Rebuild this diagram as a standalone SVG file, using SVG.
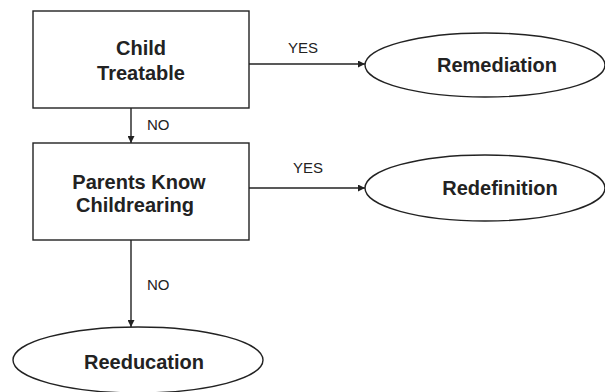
<svg xmlns="http://www.w3.org/2000/svg" width="605" height="392" viewBox="0 0 605 392">
<defs>
<style>
.box{fill:#fff;stroke:#222;stroke-width:1.4}
.ell{fill:#fff;stroke:#222;stroke-width:1.4}
.t{font-family:"Liberation Sans",Arial,sans-serif;font-weight:bold;font-size:20px;fill:#222;text-anchor:middle}
.lbl{font-family:"Liberation Sans",Arial,sans-serif;font-size:15px;fill:#222}
.c{stroke:#222;stroke-width:1.4;fill:none;marker-end:url(#ah)}
</style>
<marker id="ah" viewBox="0 0 10 10" refX="10" refY="5" markerWidth="8" markerHeight="7" markerUnits="userSpaceOnUse" orient="auto">
<path d="M0,0 L10,5 L0,10 z" fill="#222"/>
</marker>
</defs>
<rect width="605" height="392" fill="#fff"/>
<g id="connectors">
<line class="c" x1="249" y1="64" x2="365" y2="64"/>
<line class="c" x1="249" y1="188" x2="365" y2="188"/>
<line class="c" x1="131" y1="108" x2="131" y2="143"/>
<line class="c" x1="131" y1="240" x2="131" y2="327"/>
<text class="lbl" x="288" y="53">YES</text>
<text class="lbl" x="293" y="173">YES</text>
<text class="lbl" x="147" y="130">NO</text>
<text class="lbl" x="147" y="290">NO</text>
</g>
<g id="child-treatable">
<rect class="box" x="33" y="11" width="216" height="97"/>
<text class="t" x="141" y="55">Child</text>
<text class="t" x="141" y="80">Treatable</text>
</g>
<g id="parents-know">
<rect class="box" x="33" y="143" width="216" height="97"/>
<text class="t" x="139" y="189">Parents Know</text>
<text class="t" x="135" y="212">Childrearing</text>
</g>
<g id="remediation">
<ellipse class="ell" cx="485" cy="65" rx="120" ry="32"/>
<text class="t" x="497" y="72">Remediation</text>
</g>
<g id="redefinition">
<ellipse class="ell" cx="485" cy="188" rx="120" ry="33"/>
<text class="t" x="500" y="195">Redefinition</text>
</g>
<g id="reeducation">
<ellipse class="ell" cx="138" cy="360" rx="125" ry="33"/>
<text class="t" x="144" y="369">Reeducation</text>
</g>
</svg>
